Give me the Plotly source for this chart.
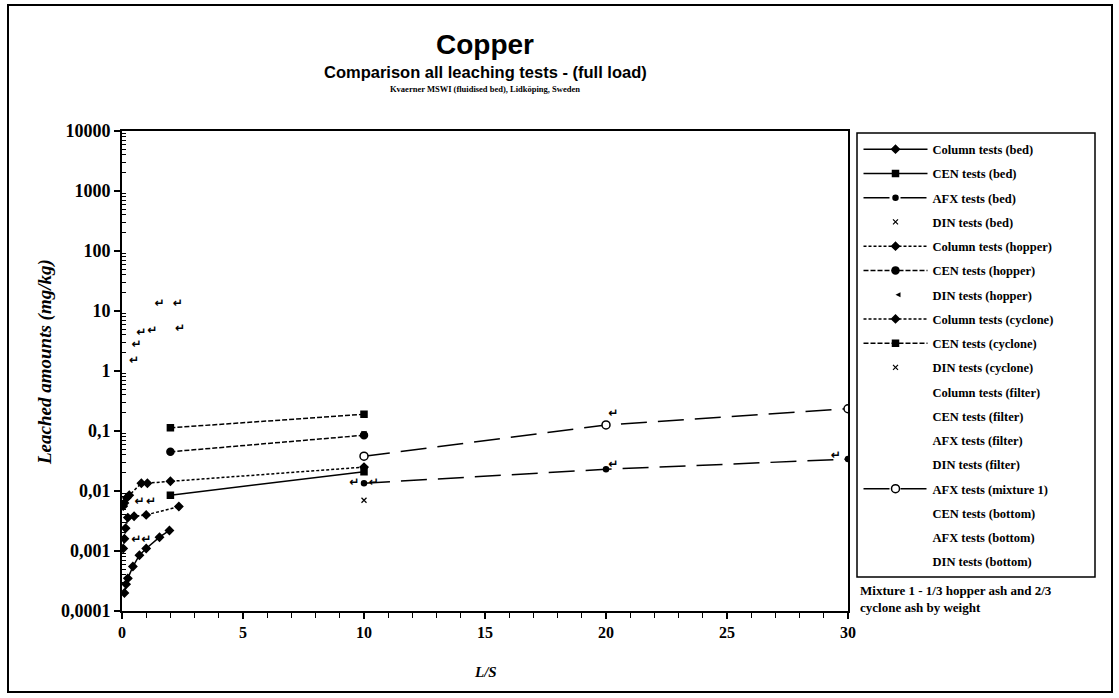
import plotly.graph_objects as go

# ---- leached copper (mg/kg) versus L/S ----
# Column tests (bed)
col_bed_ls = [0.1, 0.17, 0.24, 0.45, 0.72, 1.0, 1.55, 1.96]
col_bed_cu = [0.0002, 0.00028, 0.00035, 0.00055, 0.00085, 0.0011, 0.0017, 0.0022]
# CEN tests (bed)
cen_bed_ls = [2, 10]
cen_bed_cu = [0.0085, 0.021]
# AFX tests (bed)
afx_bed_ls = [10, 20, 30]
afx_bed_cu = [0.0135, 0.023, 0.034]
# DIN tests (bed)
din_bed_ls = [10]
din_bed_cu = [0.007]
# Column tests (hopper)
col_hop_ls = [0.05, 0.1, 0.2, 0.3, 0.8, 1.05, 2.0, 10]
col_hop_cu = [0.0056, 0.0063, 0.0077, 0.0085, 0.0135, 0.0135, 0.0145, 0.025]
# CEN tests (hopper)
cen_hop_ls = [2, 10]
cen_hop_cu = [0.045, 0.085]
# DIN tests (hopper)
din_hop_ls = [9.6, 10.4]
din_hop_cu = [0.0135, 0.0135]
# Column tests (cyclone)
col_cyc_ls = [0.05, 0.1, 0.15, 0.24, 0.5, 1.0, 2.35]
col_cyc_cu = [0.0011, 0.0016, 0.0024, 0.0036, 0.0038, 0.004, 0.0055]
# CEN tests (cyclone)
cen_cyc_ls = [2, 10]
cen_cyc_cu = [0.113, 0.19]
# DIN tests (cyclone)
din_cyc_ls = [10]
din_cyc_cu = [0.09]
# Filter ash
col_fil_ls = [0.5, 0.6, 0.8, 1.25, 2.4]
col_fil_cu = [1.45, 2.7, 4.3, 4.6, 5.0]
cen_fil_ls = [1.55]
cen_fil_cu = [13.3]
afx_fil_ls = [2.3]
afx_fil_cu = [13.3]
din_fil_ls = []
din_fil_cu = []
# AFX tests (mixture 1)
afx_mix_ls = [10, 20, 30]
afx_mix_cu = [0.038, 0.126, 0.235]
# Bottom ash
cen_bot_ls = [0.72, 1.2]
cen_bot_cu = [0.0065, 0.0065]
afx_bot_ls = [0.59, 1.0]
afx_bot_cu = [0.00155, 0.00155]
din_bot_ls = [20.3, 20.3, 29.5]
din_bot_cu = [0.19, 0.027, 0.038]

# axis ticks
y_tick_vals = [1e4, 1e3, 1e2, 1e1, 1, 0.1, 0.01, 0.001, 0.0001]
y_tick_text = ["10000", "1000", "100", "10", "1", "0,1", "0,01", "0,001", "0,0001"]
x_tick_vals = [0, 5, 10, 15, 20, 25, 30]

BLACK = "black"
LONG_DASH = "26px,11px"
SHORT_DASH = "3px,2px"
MID_DASH = "5px,2px"

fig = go.Figure()


def line_series(name, x, y, dash, symbol, size, fill=BLACK):
    fig.add_trace(go.Scatter(
        x=x, y=y, name=name, legendgroup=name, mode="lines+markers",
        line=dict(color=BLACK, width=1.5, dash=dash),
        marker=dict(symbol=symbol, size=size, color=fill,
                    line=dict(color=BLACK, width=1.5)),
    ))


def marker_series(name, x, y, symbol, size):
    fig.add_trace(go.Scatter(
        x=x, y=y, name=name, legendgroup=name, mode="markers",
        marker=dict(symbol=symbol, size=size, color=BLACK,
                    line=dict(color=BLACK, width=1.2)),
    ))


def glyph_series(name, x, y, legend_symbol=None):
    # legend entry (symbol optional); points drawn as a small hook glyph
    if legend_symbol:
        leg_marker = dict(symbol=legend_symbol, size=5, color=BLACK)
    else:
        leg_marker = dict(size=5, color="rgba(0,0,0,0)")
    fig.add_trace(go.Scatter(
        x=[None], y=[None], name=name, legendgroup=name, mode="markers",
        marker=leg_marker,
    ))
    if len(x):
        fig.add_trace(go.Scatter(
            x=x, y=y, name=name, legendgroup=name, mode="text",
            text=["\u21b5"] * len(x), showlegend=False,
            textfont=dict(family="DejaVu Sans", size=12, color=BLACK, weight="bold"),
        ))


line_series("Column tests (bed)", col_bed_ls, col_bed_cu, "solid", "diamond", 6)
line_series("CEN tests (bed)", cen_bed_ls, cen_bed_cu, "solid", "square", 6)
line_series("AFX tests (bed)", afx_bed_ls, afx_bed_cu, LONG_DASH, "circle", 5)
marker_series("DIN tests (bed)", din_bed_ls, din_bed_cu, "x-thin", 5)
line_series("Column tests (hopper)", col_hop_ls, col_hop_cu, SHORT_DASH, "diamond", 6)
line_series("CEN tests (hopper)", cen_hop_ls, cen_hop_cu, MID_DASH, "circle", 7)
glyph_series("DIN tests (hopper)", din_hop_ls, din_hop_cu, legend_symbol="arrow-left")
line_series("Column tests (cyclone)", col_cyc_ls, col_cyc_cu, SHORT_DASH, "diamond", 6)
line_series("CEN tests (cyclone)", cen_cyc_ls, cen_cyc_cu, MID_DASH, "square", 6)
marker_series("DIN tests (cyclone)", din_cyc_ls, din_cyc_cu, "x-thin", 5)
glyph_series("Column tests (filter)", col_fil_ls, col_fil_cu)
glyph_series("CEN tests (filter)", cen_fil_ls, cen_fil_cu)
glyph_series("AFX tests (filter)", afx_fil_ls, afx_fil_cu)
glyph_series("DIN tests (filter)", din_fil_ls, din_fil_cu)
line_series("AFX tests (mixture 1)", afx_mix_ls, afx_mix_cu, LONG_DASH, "circle", 8, fill="white")
glyph_series("CEN tests (bottom)", cen_bot_ls, cen_bot_cu)
glyph_series("AFX tests (bottom)", afx_bot_ls, afx_bot_cu)
glyph_series("DIN tests (bottom)", din_bot_ls, din_bot_cu)

# log minor tick positions (2..9 of each decade)
y_minor = [k * 10.0 ** e for e in range(-4, 4) for k in range(2, 10)]

serif = "Liberation Serif"
sans = "Liberation Sans"

# plot area: x 122..848 px, y 131..611 px
PL, PR, PT, PB = 122, 848, 131, 611
W, H = 1119, 698


def px(xp):
    return (xp - PL) / (PR - PL)


def py(yp):
    return (PB - yp) / (PB - PT)


fig.update_layout(
    width=W, height=H,
    margin=dict(l=PL, r=W - PR, t=PT, b=H - PB),
    paper_bgcolor="white", plot_bgcolor="white",
    font=dict(family=serif, color=BLACK, size=13),
    showlegend=True,
    legend=dict(
        x=px(858.5), y=py(134.5), xanchor="left", yanchor="top",
        borderwidth=0, bgcolor="rgba(0,0,0,0)",
        font=dict(family=serif, size=12.5, color=BLACK, weight="bold"),
        traceorder="grouped", tracegroupgap=5, itemwidth=64,
        maxheight=520,
    ),
    xaxis=dict(
        range=[0, 30], tickvals=x_tick_vals,
        showline=True, linecolor=BLACK, linewidth=2, mirror=True,
        ticks="outside", ticklen=6, tickwidth=1.5, tickcolor=BLACK,
        minor=dict(dtick=1, ticks="outside", ticklen=5, tickwidth=1, tickcolor=BLACK),
        showgrid=False, zeroline=False,
        tickfont=dict(family=serif, size=16, weight="bold"),
    ),
    yaxis=dict(
        type="log", range=[-4, 4],
        tickvals=y_tick_vals, ticktext=y_tick_text,
        showline=True, linecolor=BLACK, linewidth=2, mirror=True,
        ticks="outside", ticklen=6, tickwidth=1.5, tickcolor=BLACK,
        minor=dict(tickvals=y_minor, ticks="inside", ticklen=4, tickwidth=1, tickcolor=BLACK),
        showgrid=False, zeroline=False,
        tickfont=dict(family=serif, size=18, weight="bold"),
    ),
    annotations=[
        dict(text="Copper", xref="paper", yref="paper", x=0.5, y=py(45), yanchor="middle",
             showarrow=False, font=dict(family=sans, size=28, weight="bold")),
        dict(text="Comparison all leaching tests - (full load)", xref="paper", yref="paper",
             x=0.5, y=py(72), yanchor="middle", showarrow=False,
             font=dict(family=sans, size=16.5, weight="bold")),
        dict(text="Kvaerner MSWI (fluidised bed), Lidköping, Sweden", xref="paper", yref="paper",
             x=0.5, y=py(89), yanchor="middle", showarrow=False,
             font=dict(family=serif, size=8.5, weight="bold")),
        dict(text="Leached amounts (mg/kg)", xref="paper", yref="paper", x=px(45), y=py(362),
             xanchor="center", yanchor="middle", textangle=-90, showarrow=False,
             font=dict(family=serif, size=19, weight="bold", style="italic")),
        dict(text="L/S", xref="paper", yref="paper", x=px(485), y=py(672),
             xanchor="center", yanchor="middle",
             showarrow=False, font=dict(family=serif, size=15, weight="bold", style="italic")),
        dict(text="Mixture 1 - 1/3 hopper ash and 2/3<br>cyclone ash by weight",
             xref="paper", yref="paper", x=px(858), y=py(599), xanchor="left", yanchor="middle",
             align="left", showarrow=False, font=dict(family=serif, size=13, weight="bold")),
    ],
    shapes=[
        # outer frame
        dict(type="rect", xref="paper", yref="paper",
             x0=px(8), x1=px(1112), y0=py(692), y1=py(5),
             line=dict(color=BLACK, width=2), fillcolor="rgba(0,0,0,0)", layer="below"),
        # legend box
        dict(type="rect", xref="paper", yref="paper",
             x0=px(857), x1=px(1095), y0=py(577), y1=py(133),
             line=dict(color=BLACK, width=1.5), fillcolor="rgba(0,0,0,0)", layer="below"),
    ],
)

fig.write_html("out.html")
